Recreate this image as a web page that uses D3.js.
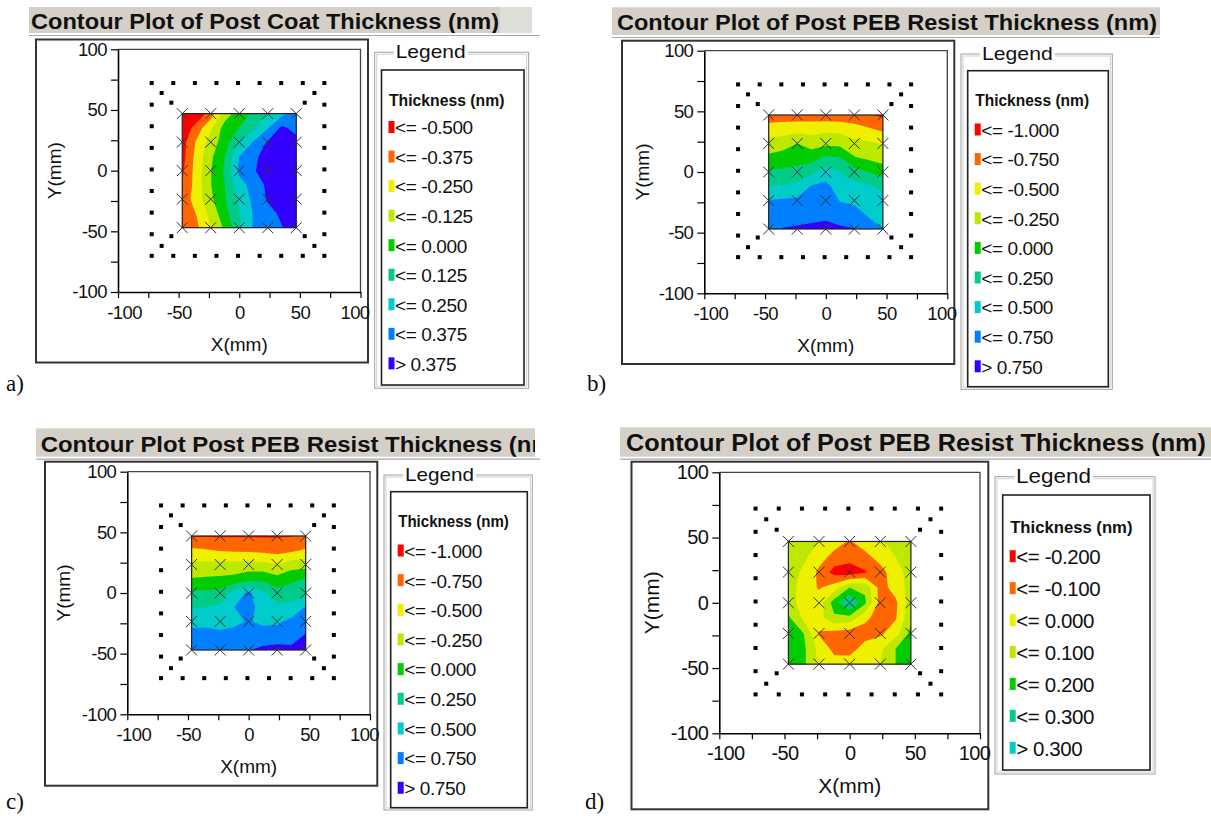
<!DOCTYPE html>
<html>
<head>
<meta charset="utf-8">
<script src="https://cdn.jsdelivr.net/npm/d3@7"></script>
<style>
  body { margin: 0; background: #fff; }
  svg { display: block; }
  text { fill: #111; }
</style>
</head>
<body>
<svg id="chart" width="1211" height="816"></svg>
<script>
// measurement sites (mm)
const gridX = [-47, -23.5, 0, 23.5, 47];
const gridY = [47, 23.5, 0, -23.5, -47];

// thickness change (nm) on a 9x9 raster over the site square,
// rows top (y=47) -> bottom (y=-47), columns left (x=-47) -> right (x=47)
const thickA = [
  [-0.70, -0.60, -0.44, -0.19, -0.06, 0.02, 0.13, 0.22, 0.30],
  [-0.60, -0.45, -0.27, -0.07,  0.00, 0.10, 0.24, 0.40, 0.33],
  [-0.55, -0.36, -0.20, -0.05,  0.13, 0.26, 0.39, 0.46, 0.42],
  [-0.55, -0.33, -0.15,  0.00,  0.25, 0.35, 0.42, 0.45, 0.44],
  [-0.52, -0.32, -0.13,  0.02,  0.28, 0.36, 0.45, 0.45, 0.43],
  [-0.50, -0.32, -0.13,  0.00,  0.20, 0.30, 0.40, 0.45, 0.44],
  [-0.45, -0.32, -0.15, -0.01,  0.15, 0.28, 0.39, 0.45, 0.45],
  [-0.45, -0.37, -0.21, -0.04,  0.12, 0.26, 0.33, 0.40, 0.43],
  [-0.45, -0.40, -0.25, -0.10,  0.10, 0.26, 0.32, 0.37, 0.42]
];
const thickB = [
  [-0.87, -0.87, -0.88, -0.88, -0.90, -0.90, -0.88, -0.98, -1.05],
  [-0.65, -0.63, -0.60, -0.60, -0.56, -0.58, -0.67, -0.72, -0.80],
  [-0.40, -0.36, -0.25, -0.36, -0.31, -0.32, -0.42, -0.46, -0.52],
  [-0.19, -0.14, -0.10, -0.10,  0.05,  0.02, -0.23, -0.30, -0.35],
  [ 0.03,  0.05,  0.08,  0.19,  0.37,  0.25,  0.10,  0.00, -0.12],
  [ 0.25,  0.27,  0.32,  0.52,  0.57,  0.37,  0.33,  0.28,  0.20],
  [ 0.51,  0.53,  0.55,  0.60,  0.63,  0.49,  0.46,  0.38,  0.33],
  [ 0.57,  0.64,  0.66,  0.68,  0.70,  0.60,  0.58,  0.48,  0.42],
  [ 0.62,  0.76,  0.78,  0.80,  0.82,  0.80,  0.76,  0.58,  0.50]
];
const thickC = [
  [-1.02, -1.02, -1.02, -1.02, -1.02, -1.02, -1.02, -1.01, -0.95],
  [-0.70, -0.73, -0.77, -0.79, -0.80, -0.82, -0.85, -0.80, -0.72],
  [-0.45, -0.44, -0.42, -0.42, -0.40, -0.43, -0.50, -0.37, -0.36],
  [-0.24, -0.22, -0.21, -0.18, -0.10, -0.07, -0.17, -0.06,  0.01],
  [ 0.05,  0.05,  0.07,  0.35,  0.55,  0.30,  0.10,  0.13,  0.17],
  [ 0.24,  0.25,  0.30,  0.50,  0.58,  0.40,  0.30,  0.33,  0.52],
  [ 0.45,  0.44,  0.41,  0.45,  0.52,  0.45,  0.46,  0.56,  0.65],
  [ 0.56,  0.58,  0.56,  0.58,  0.62,  0.62,  0.62,  0.66,  0.77],
  [ 0.62,  0.65,  0.66,  0.68,  0.74,  0.80,  0.84,  0.80,  0.80]
];
const thickD = [
  [ 0.06,  0.04,  0.00, -0.06, -0.11, -0.05, -0.01,  0.03,  0.06],
  [ 0.06,  0.02, -0.06, -0.13, -0.16, -0.13, -0.06,  0.00,  0.05],
  [ 0.05, -0.02, -0.12, -0.24, -0.26, -0.21, -0.14, -0.04,  0.04],
  [ 0.04, -0.04, -0.11, -0.05,  0.10,  0.08, -0.14, -0.06,  0.04],
  [ 0.04, -0.04, -0.05,  0.15,  0.32,  0.12, -0.14, -0.12,  0.05],
  [ 0.12, -0.02, -0.04,  0.08,  0.06, -0.08, -0.14, -0.11,  0.08],
  [ 0.15,  0.10, -0.11, -0.14, -0.15, -0.14, -0.12, -0.04,  0.13],
  [ 0.16,  0.12, -0.03, -0.13, -0.14, -0.06, -0.02,  0.10,  0.14],
  [ 0.16,  0.12, -0.02, -0.06, -0.05, -0.02,  0.00,  0.10,  0.14]
];

// contour levels and legend texts
const levelsA  = [-0.5, -0.375, -0.25, -0.125, 0, 0.125, 0.25, 0.375];
const levelsBC = [-1, -0.75, -0.5, -0.25, 0, 0.25, 0.5, 0.75];
const levelsD  = [-0.2, -0.1, 0, 0.1, 0.2, 0.3];
const labelsA  = ["<= -0.500", "<= -0.375", "<= -0.250", "<= -0.125", "<= 0.000", "<= 0.125", "<= 0.250", "<= 0.375", "> 0.375"];
const labelsBC = ["<= -1.000", "<= -0.750", "<= -0.500", "<= -0.250", "<= 0.000", "<= 0.250", "<= 0.500", "<= 0.750", "> 0.750"];
const labelsD  = ["<= -0.200", "<= -0.100", "<= 0.000", "<= 0.100", "<= 0.200", "<= 0.300", "> 0.300"];
const bandColors = ["#ff0000", "#ff6600", "#eef000", "#bde800", "#00cc00", "#00cc88", "#00cccc", "#0080ff", "#3300ff"];

// wafer site pattern (outer ring + chamfer dots)
const ringX = [-72.2, -54.4, -36.6, -18.8, -1, 16.8, 34.6, 52.4, 70.2];
const ringY = [72.2, 54.4, 36.6, 18.8, 1, -16.8, -34.6, -52.4, -70.2];
const chamferDots = [[-64, 64], [-56, 56], [62, 64], [54, 56], [-64, -62], [-56, -54], [62, -62], [54, -54]];

// axes
const axisTicks = [-100, -75, -50, -25, 0, 25, 50, 75, 100];
const axisLabels = ["-100", "", "-50", "", "0", "", "50", "", "100"];

const titles = [
  "Contour Plot of Post Coat Thickness (nm)",
  "Contour Plot of Post PEB Resist Thickness (nm)",
  "Contour Plot Post PEB Resist Thickness (nm)",
  "Contour Plot of Post PEB Resist Thickness (nm)"
];
const tags = ["a)", "b)", "c)", "d)"];

const SANS = '"Liberation Sans", Arial, sans-serif';

// layout of each panel (pixels)
const panels = [
  { values: thickA, levels: levelsA, labels: labelsA,
    bar: [29, 7, 532, 33], barSplit: 500, lineEnd: 540, titleX: 31, titleY: 28.5, titleSize: 22, titleW: 468,
    frame: [36, 39.5, 368, 362.5], plot: [118, 49.3, 360.5, 292],
    legOut: [374.7, 52.3, 528.6, 388.3], legIn: [381.5, 70, 524, 385],
    headY: 105.5, itemY: 127.5, itemStep: 29.55, itemSize: 19, legendW: 70,
    tick: 18.5, axTitle: 19, yTitleOff: 64, tag: [6, 391] },
  { values: thickB, levels: levelsBC, labels: labelsBC,
    bar: [612, 7.3, 1160, 35], lineEnd: 1160, titleX: 617, titleY: 30, titleSize: 22, titleW: 540,
    frame: [622, 40.7, 954.3, 364], plot: [704.3, 50.7, 947.3, 293.3],
    legOut: [961, 54, 1112.3, 389.3], legIn: [967.7, 70.7, 1108.3, 386.7],
    headY: 106, itemY: 130, itemStep: 29.6, itemSize: 19, legendW: 70.7,
    tick: 18.5, axTitle: 19, yTitleOff: 62, tag: [587, 391] },
  { values: thickC, levels: levelsBC, labels: labelsBC,
    bar: [36, 428.3, 535, 456.7], lineEnd: 540, titleX: 40.7, titleY: 451.5, titleSize: 22, titleW: 520,
    frame: [45, 461.7, 377.3, 785.7], plot: [127.3, 471.7, 370, 714.3],
    legOut: [384, 475, 532.3, 810], legIn: [390.7, 491.7, 527.3, 807.7],
    headY: 526.7, itemY: 551, itemStep: 29.66, itemSize: 19, legendW: 69,
    tick: 18.5, axTitle: 19, yTitleOff: 64, tag: [6, 809] },
  { values: thickD, levels: levelsD, labels: labelsD,
    bar: [620, 427.3, 1211, 456.7], lineEnd: 1211, titleX: 626, titleY: 450.7, titleSize: 23.5, titleW: 580,
    frame: [631.5, 461.7, 988.3, 809.3], plot: [719.3, 472.3, 980, 733.3],
    legOut: [995, 476.7, 1155, 774], legIn: [1002.7, 495, 1150, 770],
    headY: 533.3, itemY: 556.7, itemStep: 31.93, itemSize: 20.5, legendW: 75,
    tick: 20, axTitle: 21, yTitleOff: 67.7, tag: [585, 809] }
];

const svg = d3.select("#chart");
const defs = svg.append("defs");

function drawPanel(p, k) {
  const g = svg.append("g").style("font-family", SANS);

  // title bar
  const [bx0, by0, bx1, by1] = p.bar;
  g.append("rect").attr("x", bx0).attr("y", by0).attr("width", bx1 - bx0).attr("height", by1 - by0).attr("fill", "#d4d0c8");
  if (p.barSplit) {
    g.append("rect").attr("x", p.barSplit).attr("y", by0).attr("width", bx1 - p.barSplit).attr("height", by1 - by0).attr("fill", "#dfddd8");
  }
  g.append("line").attr("x1", bx0).attr("x2", p.lineEnd).attr("y1", by1 + 2.5).attr("y2", by1 + 2.5)
    .attr("stroke", "#a8a8a8").attr("stroke-width", 1.2);
  defs.append("clipPath").attr("id", "tclip" + k).append("rect")
    .attr("x", bx0).attr("y", by0).attr("width", bx1 - bx0).attr("height", by1 - by0);
  g.append("text").attr("clip-path", `url(#tclip${k})`)
    .attr("x", p.titleX).attr("y", p.titleY)
    .attr("font-size", p.titleSize).attr("font-weight", "bold")
    .attr("textLength", p.titleW).attr("lengthAdjust", "spacingAndGlyphs")
    .text(titles[k]);

  // outer frame
  const [fx0, fy0, fx1, fy1] = p.frame;
  g.append("rect").attr("x", fx0).attr("y", fy0).attr("width", fx1 - fx0).attr("height", fy1 - fy0)
    .attr("fill", "#fff").attr("stroke", "#333").attr("stroke-width", 2);

  const [px0, py0, px1, py1] = p.plot;
  const x = d3.scaleLinear().domain([-100, 100]).range([px0, px1]);
  const y = d3.scaleLinear().domain([-100, 100]).range([py1, py0]);

  // plot box top/right
  g.append("path").attr("d", `M${px0},${py0}H${px1}V${py1}`).attr("fill", "none")
    .attr("stroke", "#444").attr("stroke-width", 1.3);

  // contour fill
  const n = p.values.length;
  const cx = d3.scaleLinear().domain([0.5, n - 0.5]).range([gridX[0], gridX[gridX.length - 1]]);
  const cy = d3.scaleLinear().domain([0.5, n - 0.5]).range([gridY[0], gridY[gridY.length - 1]]);
  const proj = d3.geoTransform({
    point: function (a, b) { this.stream.point(x(cx(a)), y(cy(b))); }
  });
  const path = d3.geoPath(proj);
  const sq = { x: x(gridX[0]), y: y(gridY[0]), w: x(gridX[4]) - x(gridX[0]), h: y(gridY[4]) - y(gridY[0]) };
  defs.append("clipPath").attr("id", "cclip" + k).append("rect")
    .attr("x", sq.x).attr("y", sq.y).attr("width", sq.w).attr("height", sq.h);
  const cg = g.append("g").attr("clip-path", `url(#cclip${k})`);
  cg.append("rect").attr("x", sq.x).attr("y", sq.y).attr("width", sq.w).attr("height", sq.h).attr("fill", bandColors[0]);
  const contours = d3.contours().size([n, n]).thresholds(p.levels)(p.values.flat());
  cg.selectAll("path").data(contours).join("path")
    .attr("d", path)
    .attr("fill", (d, i) => bandColors[i + 1]);
  g.append("rect").attr("x", sq.x).attr("y", sq.y).attr("width", sq.w).attr("height", sq.h)
    .attr("fill", "none").attr("stroke", "#222").attr("stroke-width", 1.2);

  // wafer dots
  const dots = [];
  ringX.forEach(v => { dots.push([v, ringY[0]]); dots.push([v, ringY[8]]); });
  ringY.slice(1, 8).forEach(v => { dots.push([ringX[0], v]); dots.push([ringX[8], v]); });
  chamferDots.forEach(d => dots.push(d));
  g.selectAll(".dot").data(dots).join("rect").attr("class", "dot")
    .attr("x", d => x(d[0]) - 2).attr("y", d => y(d[1]) - 2)
    .attr("width", 4).attr("height", 4).attr("fill", "#000");

  // measurement site crosses
  const sites = d3.cross(gridX, gridY);
  g.selectAll(".site").data(sites).join("path").attr("class", "site")
    .attr("d", d => {
      const sx = x(d[0]), sy = y(d[1]), r = 5.5;
      return `M${sx - r},${sy - r}L${sx + r},${sy + r}M${sx - r},${sy + r}L${sx + r},${sy - r}`;
    })
    .attr("stroke", "#333").attr("stroke-width", 1).attr("fill", "none");

  // axes
  const fmt = v => axisLabels[axisTicks.indexOf(v)];
  const ax = g.append("g").attr("transform", `translate(0,${py1})`)
    .call(d3.axisBottom(x).tickValues(axisTicks).tickFormat(fmt).tickSize(6).tickSizeOuter(0).tickPadding(4));
  const ay = g.append("g").attr("transform", `translate(${px0},0)`)
    .call(d3.axisLeft(y).tickValues(axisTicks).tickFormat(fmt).tickSize(7).tickSizeOuter(0).tickPadding(4));
  [ax, ay].forEach(a => {
    a.attr("font-family", null).attr("font-size", null);
    a.select(".domain").attr("stroke", "#000").attr("stroke-width", 1.6);
    a.selectAll(".tick line").attr("stroke", "#000").attr("stroke-width", 1.2);
    a.selectAll(".tick text").style("font-family", SANS)
      .attr("font-size", p.tick).attr("fill", "#111").attr("letter-spacing", -0.6);
  });
  ax.selectAll(".tick text").attr("dy", null).attr("y", 20 + p.tick * 0.36)
    .attr("dx", (d, i) => i === 0 ? 6 : (i === axisTicks.length - 1 ? -6 : 0));
  ay.selectAll(".tick text").attr("x", -11);

  g.append("text").attr("x", (px0 + px1) / 2).attr("y", py1 + 52 + p.axTitle * 0.36)
    .attr("text-anchor", "middle").attr("font-size", p.axTitle).text("X(mm)");
  g.append("text")
    .attr("transform", `translate(${px0 - p.yTitleOff + p.axTitle * 0.36},${(py0 + py1) / 2}) rotate(-90)`)
    .attr("text-anchor", "middle").attr("font-size", p.axTitle).text("Y(mm)");

  // legend group box
  const [lx0, ly0, lx1, ly1] = p.legOut;
  g.append("rect").attr("x", lx0).attr("y", ly0).attr("width", lx1 - lx0).attr("height", ly1 - ly0)
    .attr("fill", "none").attr("stroke", "#a0a0a0").attr("stroke-width", 1);
  g.append("rect").attr("x", lx0 + 2).attr("y", ly0 + 2).attr("width", lx1 - lx0 - 4).attr("height", ly1 - ly0 - 4)
    .attr("fill", "none").attr("stroke", "#d0d0d0").attr("stroke-width", 1);
  const legendT = g.append("text").attr("x", lx0 + 21).attr("y", ly0 + 6)
    .attr("font-size", p.itemSize).attr("textLength", p.legendW).attr("lengthAdjust", "spacingAndGlyphs").text("Legend");
  const bb = legendT.node().getBBox();
  g.insert("rect", () => legendT.node()).attr("x", bb.x - 2).attr("y", ly0 - 3).attr("width", bb.width + 4).attr("height", 6).attr("fill", "#fff");

  const [ix0, iy0, ix1, iy1] = p.legIn;
  g.append("rect").attr("x", ix0).attr("y", iy0).attr("width", ix1 - ix0).attr("height", iy1 - iy0)
    .attr("fill", "#fff").attr("stroke", "#222").attr("stroke-width", 1.6);
  g.append("text").attr("x", ix0 + 7.5).attr("y", p.headY)
    .attr("font-size", p.itemSize * 0.84).attr("font-weight", "bold")
    .attr("textLength", (ix1 - ix0) * (k === 3 ? 0.83 : 0.81)).attr("lengthAdjust", "spacingAndGlyphs")
    .text("Thickness (nm)");

  const item = g.selectAll(".item").data(p.labels).join("g").attr("class", "item")
    .attr("transform", (d, i) => `translate(${ix0 + 7},${p.itemY + i * p.itemStep})`);
  item.append("rect").attr("x", 0).attr("y", -6.5).attr("width", 6).attr("height", 12)
    .attr("fill", (d, i) => bandColors[i]);
  item.append("text").attr("x", 6.5).attr("y", p.itemSize * 0.36)
    .attr("font-size", p.itemSize).attr("letter-spacing", -0.4).text(d => d);

  // panel tag
  g.append("text").attr("x", p.tag[0]).attr("y", p.tag[1])
    .style("font-family", '"Liberation Serif", "Times New Roman", serif')
    .attr("font-size", 23).text(tags[k]);
}

panels.forEach(drawPanel);
</script>
</body>
</html>
